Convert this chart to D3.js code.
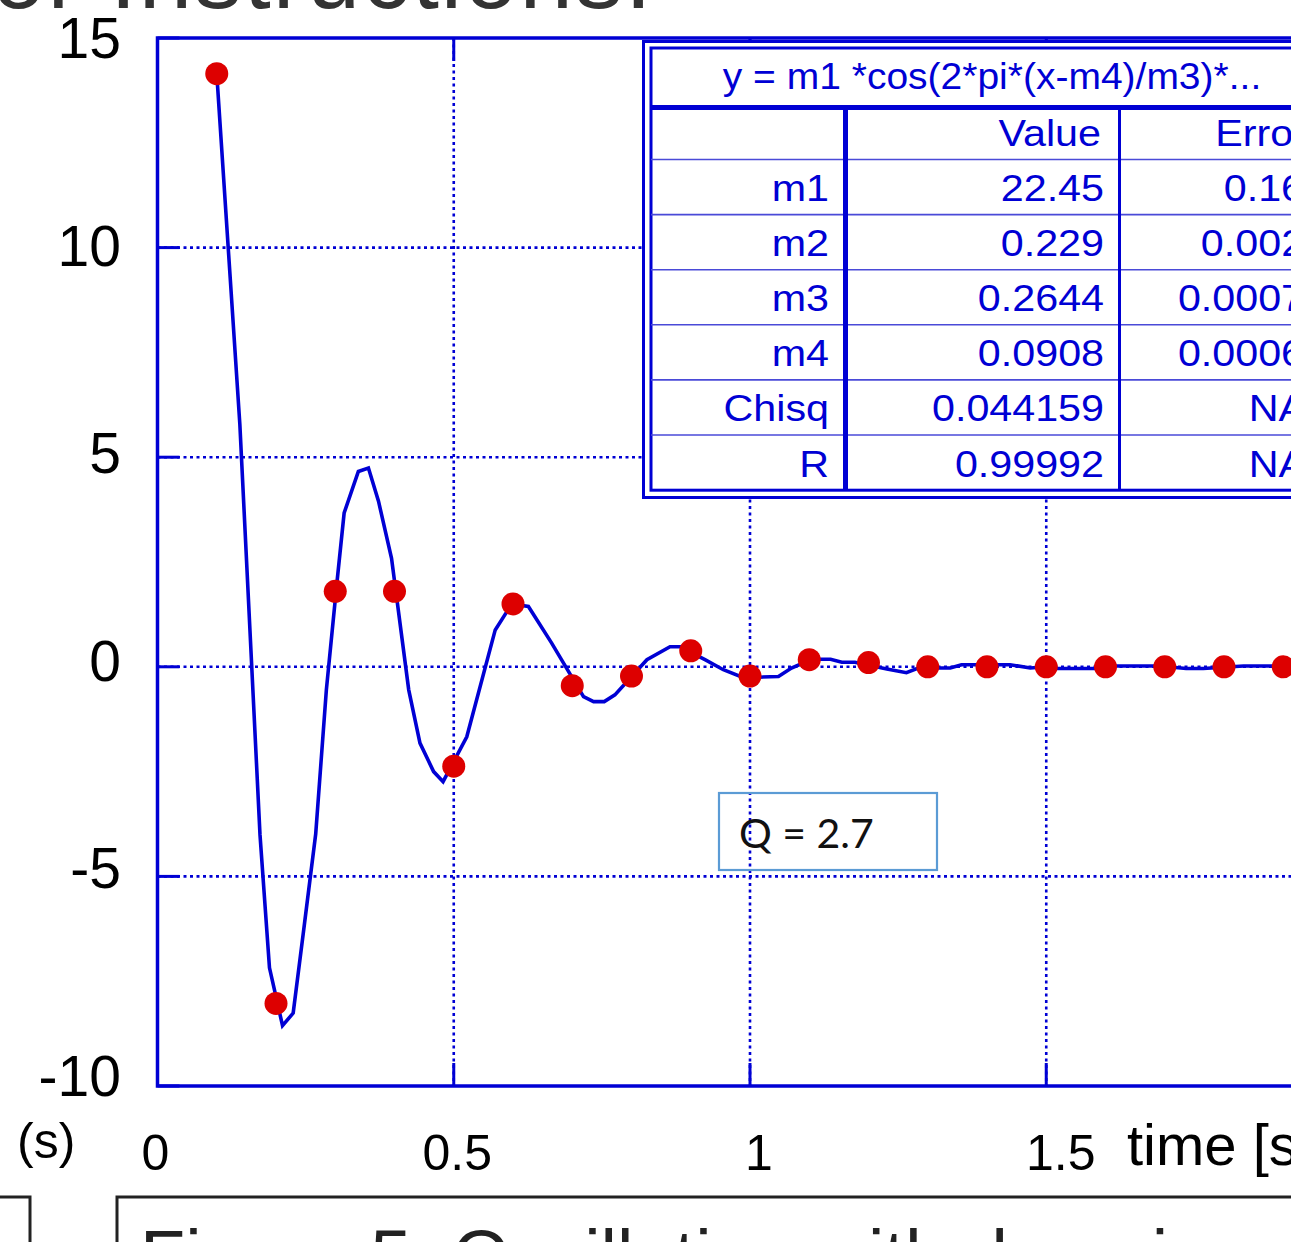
<!DOCTYPE html>
<meta charset="utf-8" />
<script src="https://d3js.org/d3.v7.min.js"></script>
<style>
  body { margin: 0; background: #fff; overflow: hidden; }
  text { font-family: "Liberation Sans", Arial, sans-serif; }
</style>
<div id="chart"></div>
<script>
  // measured points (red dots)
  const times = [0.1, 0.2, 0.3, 0.4, 0.5, 0.6, 0.7, 0.8, 0.9, 1.0,
                 1.1, 1.2, 1.3, 1.4, 1.5, 1.6, 1.7, 1.8, 1.9];
  const measured = [14.15, -8.03, 1.80, 1.80, -2.37, 1.50, -0.45, -0.22, 0.38, -0.22,
                    0.17, 0.10, 0.0, 0.0, 0.0, 0.0, 0.0, 0.0, 0.0];

  // fitted curve, vertices
  const fitT = [0.100, 0.139, 0.173, 0.189, 0.211, 0.229, 0.247, 0.267, 0.285, 0.303,
                0.315, 0.339, 0.356, 0.373, 0.395, 0.424, 0.443, 0.466, 0.482, 0.522,
                0.570, 0.598, 0.626, 0.665, 0.719, 0.736, 0.754, 0.772, 0.826, 0.865,
                0.882, 0.924, 0.955, 0.989, 1.048, 1.070, 1.104, 1.136, 1.155, 1.177,
                1.231, 1.264, 1.284, 1.338, 1.357, 1.439, 1.473, 1.501, 1.519, 1.585,
                1.607, 1.692, 1.736, 1.765, 1.833, 1.930];
  const fitV = [14.15, 5.78, -4.01, -7.18, -8.56, -8.26, -6.25, -3.99, -0.55, 2.03,
                3.67, 4.66, 4.74, 3.95, 2.59, -0.55, -1.82, -2.50, -2.74, -1.67,
                0.88, 1.50, 1.44, 0.57, -0.71, -0.83, -0.83, -0.67, 0.17, 0.48,
                0.48, 0.17, -0.07, -0.26, -0.23, -0.03, 0.18, 0.18, 0.11, 0.11,
                -0.05, -0.14, -0.03, -0.03, 0.05, 0.05, -0.03, 0.0, -0.04, -0.04,
                0.02, 0.02, -0.04, -0.04, 0.02, 0.02];

  const xTicks = [0, 0.5, 1, 1.5];
  const yTicks = [-10, -5, 0, 5, 10, 15];

  // fit results table
  const fitFormula = "y = m1 *cos(2*pi*(x-m4)/m3)*...";
  const paramNames = ["m1", "m2", "m3", "m4", "Chisq", "R"];
  const paramValues = ["22.45", "0.229", "0.2644", "0.0908", "0.044159", "0.99992"];
  const paramErrors = ["0.164", "0.0023", "0.00074", "0.00063", "NA", "NA"];

  const BLUE = "#0000d4";
  const RED = "#dd0000";
  const W = 1291, H = 1242;

  var svg = d3.select("#chart").append("svg")
    .attr("width", W).attr("height", H);

  var x = d3.scaleLinear().domain([0, 2.5]).range([157.5, 157.5 + 2.5 * 592.5]);
  var y = d3.scaleLinear().domain([-10, 15]).range([1086, 38]);

  // cropped text at the very top of the page
  svg.append("text")
    .attr("x", -8).attr("y", 8)
    .style("font-size", "96px").style("letter-spacing", "2px").style("fill", "#333")
    .text("or Instructions:");

  // dotted grid
  var grid = svg.append("g")
    .attr("stroke", BLUE).attr("stroke-width", 2.6)
    .attr("stroke-dasharray", "3,3.5");
  grid.selectAll(".gx").data(xTicks.filter(d => d > 0)).enter().append("line")
    .attr("x1", d => x(d)).attr("x2", d => x(d))
    .attr("y1", y(15)).attr("y2", y(-10));
  grid.selectAll(".gy").data(yTicks.filter(d => d > -10 && d < 15)).enter().append("line")
    .attr("x1", x(0)).attr("x2", x(2.5))
    .attr("y1", d => y(d)).attr("y2", d => y(d));

  // inner ticks
  var ticks = svg.append("g").attr("stroke", BLUE).attr("stroke-width", 3);
  ticks.selectAll(".ty").data(yTicks).enter().append("line")
    .attr("x1", x(0)).attr("x2", x(0) + 22)
    .attr("y1", d => y(d)).attr("y2", d => y(d));
  xTicks.forEach(function (d) {
    ticks.append("line").attr("x1", x(d)).attr("x2", x(d)).attr("y1", y(-10)).attr("y2", y(-10) - 23);
    ticks.append("line").attr("x1", x(d)).attr("x2", x(d)).attr("y1", y(15)).attr("y2", y(15) + 23);
  });

  // frame
  svg.append("rect")
    .attr("x", x(0)).attr("y", y(15))
    .attr("width", x(2.5) - x(0)).attr("height", y(-10) - y(15))
    .attr("fill", "none").attr("stroke", BLUE).attr("stroke-width", 3.5);

  // tick labels
  svg.selectAll(".ylab").data(yTicks).enter().append("text")
    .attr("x", 121).attr("y", d => y(d) + 14 + 0.4 * d)
    .attr("text-anchor", "end")
    .style("font-size", "57px")
    .text(d => d);
  svg.selectAll(".xlab").data(xTicks).enter().append("text")
    .attr("x", d => x(d) - 2 + 11 * d).attr("y", 1170)
    .attr("text-anchor", "middle")
    .style("font-size", "50px")
    .text(d => d);

  svg.append("text").attr("x", 1127).attr("y", 1165)
    .style("font-size", "58px").text("time [s]");
  svg.append("text").attr("x", 17).attr("y", 1158)
    .style("font-size", "50px").text("(s)");

  // fit curve
  var curve = fitT.map((t, i) => [t, fitV[i]]);
  svg.append("path")
    .datum(curve)
    .attr("fill", "none").attr("stroke", BLUE).attr("stroke-width", 3.6)
    .attr("stroke-linejoin", "miter")
    .attr("d", d3.line().x(d => x(d[0])).y(d => y(d[1])));

  // data points
  svg.selectAll(".dot").data(times).enter().append("circle")
    .attr("cx", d => x(d)).attr("cy", (d, i) => y(measured[i]))
    .attr("r", 11.5).attr("fill", RED);

  // results table
  var tb = svg.append("g");
  var tLeft = 651, tTop = 48, tRight = 1333, rowH = 55.1;
  var titleLine = 107.5, col1 = 845.5, col2 = 1119.5;
  var tBottom = titleLine + rowH * 7 - 3;
  tb.append("rect").attr("x", 643.5).attr("y", 41.5)
    .attr("width", tRight + 8 - 643.5).attr("height", 497.5 - 41.5)
    .attr("fill", "#fff").attr("stroke", BLUE).attr("stroke-width", 3);
  tb.append("rect").attr("x", tLeft).attr("y", tTop)
    .attr("width", tRight - tLeft).attr("height", tBottom - tTop)
    .attr("fill", "#fff").attr("stroke", BLUE).attr("stroke-width", 3);
  tb.append("line").attr("x1", tLeft).attr("x2", tRight)
    .attr("y1", titleLine).attr("y2", titleLine)
    .attr("stroke", BLUE).attr("stroke-width", 5);
  tb.selectAll(".rowline").data(d3.range(1, 7)).enter().append("line")
    .attr("x1", tLeft).attr("x2", tRight)
    .attr("y1", d => titleLine + 52 + (d - 1) * rowH)
    .attr("y2", d => titleLine + 52 + (d - 1) * rowH)
    .attr("stroke", "#4a4ad8").attr("stroke-width", 1.6);
  tb.append("line").attr("x1", col1).attr("x2", col1)
    .attr("y1", titleLine).attr("y2", tBottom)
    .attr("stroke", BLUE).attr("stroke-width", 5);
  tb.append("line").attr("x1", col2).attr("x2", col2)
    .attr("y1", titleLine).attr("y2", tBottom)
    .attr("stroke", BLUE).attr("stroke-width", 3);

  function cell(tx, ty, str, anchor, sx) {
    tb.append("text")
      .attr("transform", "translate(" + tx + "," + ty + ") scale(" + (sx || 1.1) + ",1)")
      .attr("text-anchor", anchor)
      .style("font-size", "37.5px").style("fill", BLUE)
      .text(str);
  }
  cell(992, 89, fitFormula, "middle", 1.04);
  cell(1101, 146, "Value", "end");
  cell(1307, 146, "Error", "end");
  paramNames.forEach(function (name, i) {
    var by = 201 + i * rowH;
    cell(829, by, name, "end");
    cell(1104, by, paramValues[i], "end");
    cell(paramErrors[i] === "NA" ? 1306 : 1327, by, paramErrors[i], "end");
  });

  // Q annotation box
  svg.append("rect").attr("x", 719).attr("y", 793)
    .attr("width", 218).attr("height", 77)
    .attr("fill", "none").attr("stroke", "#5b9bd5").attr("stroke-width", 2.2);
  svg.append("text").attr("x", 739).attr("y", 848)
    .style("font-family", "Lato, 'Open Sans', sans-serif")
    .style("font-size", "41px").style("fill", "#111")
    .text("Q = 2.7");

  // caption boxes at the bottom (cropped)
  svg.append("rect").attr("x", -10).attr("y", 1197).attr("width", 40).attr("height", 80)
    .attr("fill", "none").attr("stroke", "#222").attr("stroke-width", 3);
  svg.append("rect").attr("x", 117).attr("y", 1197).attr("width", 1300).attr("height", 80)
    .attr("fill", "none").attr("stroke", "#222").attr("stroke-width", 3);
  svg.append("text").attr("x", 140).attr("y", 1282)
    .style("font-size", "74px").style("fill", "#222")
    .text("Figure 5. Oscillation with damping");
</script>
